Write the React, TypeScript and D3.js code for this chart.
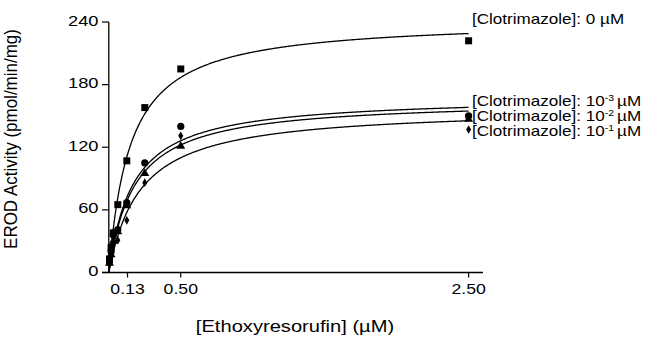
import React from "react";
import * as d3 from "d3";

// Ethoxyresorufin concentrations (µM)
const substrate = [0.005, 0.016, 0.031, 0.0625, 0.125, 0.25, 0.5, 2.5];
// EROD activity (pmol/min/mg) per clotrimazole concentration
const act0 = [13, 24, 38, 65, 107, 158, 195, 222];
const act1e3 = [10, 20, 36, 41, 67, 105, 140, 150];
const act1e2 = [9, 17, 30, 39, 64, 95, 121, 147];
const act1e1 = [8, 15, 28, 31, 50, 86, 131, 137];
// Michaelis-Menten fit parameters
const vmaxFit = [242.6, 168.9, 165.7, 158.1];
const kmFit = [0.149, 0.169, 0.178, 0.219];
const markerKinds = ["square", "circle", "triangle", "diamond"];
const legendExp = ["", "-3", "-2", "-1"];
const xTicks = [0.13, 0.5, 2.5];
const xTickLabels = ["0.13", "0.50", "2.50"];
const yTicks = [0, 60, 120, 180, 240];

const FONT = "'Liberation Sans', Arial, Helvetica, sans-serif";
const SX = 1.22;

function T({ x, y, size, anchor = "start", children }: any) {
  return (
    <text
      transform={`translate(${x},${y}) scale(${SX},1)`}
      fontSize={size}
      fontFamily={FONT}
      textAnchor={anchor}
      fill="#000"
    >
      {children}
    </text>
  );
}

function Marker({ kind, cx, cy }: any) {
  if (kind === "square") return <rect x={cx - 3.5} y={cy - 3.5} width={7} height={7} fill="#000" />;
  if (kind === "circle") return <circle cx={cx} cy={cy} r={3.6} fill="#000" />;
  if (kind === "triangle") {
    const p = d3.symbol(d3.symbolTriangle, 34)();
    return <path d={p!} transform={`translate(${cx},${cy})`} fill="#000" />;
  }
  const p = d3.symbol(d3.symbolDiamond, 22)();
  return <path d={p!} transform={`translate(${cx},${cy})`} fill="#000" />;
}

export default function App() {
  const x = d3.scaleLinear().domain([0, 2.6]).range([108.8, 483]);
  const y = d3.scaleLinear().domain([0, 240]).range([272.5, 22]);
  const series = [act0, act1e3, act1e2, act1e1];

  const sGrid = d3.range(0, 2.5001, 0.005);
  const line = d3
    .line<number[]>()
    .x((d) => x(d[0]))
    .y((d) => y(d[1]))
    .curve(d3.curveLinear);

  const legendY = [23.5, 105.5, 120.5, 135.5];

  return (
    <svg
      width={649}
      height={337}
      style={{ position: "absolute", left: 0, top: 0, background: "#fff" }}
    >
      {/* curves */}
      {vmaxFit.map((vm, i) => (
        <path
          key={"c" + i}
          d={line(sGrid.map((s) => [s, (vm * s) / (kmFit[i] + s)]))!}
          fill="none"
          stroke="#000"
          strokeWidth={1.3}
        />
      ))}
      {/* markers */}
      {series.map((vals, i) =>
        vals.map((v, j) => (
          <Marker key={`m${i}-${j}`} kind={markerKinds[i]} cx={x(substrate[j])} cy={y(v)} />
        ))
      )}
      {/* axes */}
      <line x1={x(0)} x2={x(0)} y1={y(240)} y2={y(0)} stroke="#000" strokeWidth={1.3} />
      <line x1={102} x2={483} y1={y(0)} y2={y(0)} stroke="#000" strokeWidth={1.3} />
      {yTicks.map((t) => (
        <g key={"yt" + t}>
          <line x1={102} x2={x(0)} y1={y(t)} y2={y(t)} stroke="#000" strokeWidth={1.2} />
          <T x={98.5} y={y(t) + 3.5} size={15} anchor="end">
            {String(t)}
          </T>
        </g>
      ))}
      {xTicks.map((t, i) => (
        <g key={"xt" + t}>
          <line x1={x(t)} x2={x(t)} y1={y(0)} y2={y(0) + 5} stroke="#000" strokeWidth={1.2} />
          <T x={x(t)} y={294.3} size={14.5} anchor="middle">
            {xTickLabels[i]}
          </T>
        </g>
      ))}
      <T x={295} y={331.5} size={16.5} anchor="middle">
        [Ethoxyresorufin] (µM)
      </T>
      <text
        transform={`translate(17,139) rotate(-90) scale(1,1.12)`}
        fontSize={17}
        fontFamily={FONT}
        textAnchor="middle"
        fill="#000"
      >
        EROD Activity (pmol/min/mg)
      </text>
      {/* legend labels */}
      {legendExp.map((e, i) => (
        <T key={"lg" + i} x={472} y={legendY[i]} size={14}>
          {e === "" ? (
            "[Clotrimazole]: 0 µM"
          ) : (
            <>
              {"[Clotrimazole]: 10"}
              <tspan dy={-5} fontSize={8.5}>
                {e}
              </tspan>
              <tspan dy={5} dx={2.5}>
                {"µM"}
              </tspan>
            </>
          )}
        </T>
      ))}
    </svg>
  );
}
